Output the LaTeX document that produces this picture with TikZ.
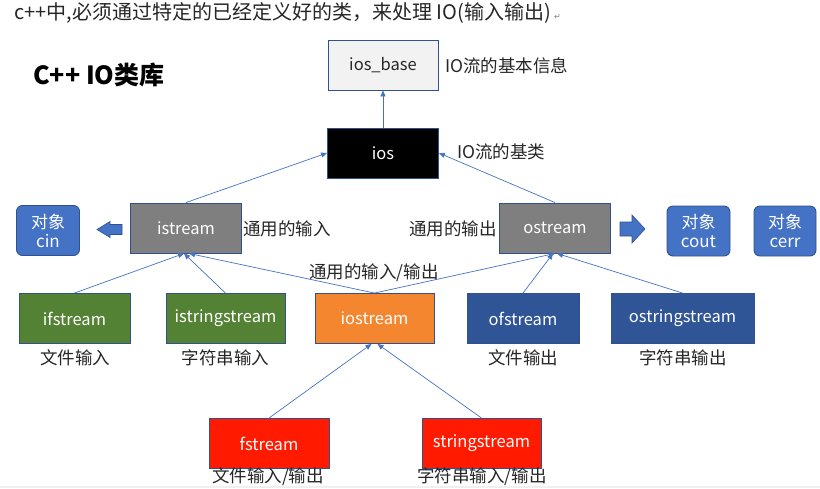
\documentclass[tikz,border=0pt]{standalone}
\usepackage{fontspec}
\setmainfont{Noto Sans CJK SC}
\newfontfamily\symfont{DejaVu Sans}
\usetikzlibrary{positioning, arrows.meta}

\definecolor{edgeblue}{HTML}{2F528F}
\definecolor{linkblue}{HTML}{4472C4}
\definecolor{basegray}{HTML}{F2F2F2}
\definecolor{streamgray}{HTML}{7F7F7F}
\definecolor{ingreen}{HTML}{548235}
\definecolor{ioorange}{HTML}{F4862F}
\definecolor{outblue}{HTML}{2F5597}
\definecolor{bothred}{HTML}{FF1A00}
\definecolor{txtgray}{HTML}{262626}

\begin{document}
\begin{tikzpicture}[
    x=1pt, y=-1pt,
    >={Triangle[length=6pt,width=5pt]},
    % class box
    cls/.style={rectangle, draw=edgeblue, line width=0.9pt, minimum height=50pt, inner sep=0pt, text=white, font=\fontsize{16.5}{18}\selectfont},
    % object box (rounded)
    obj/.style={rectangle, rounded corners=6pt, draw=edgeblue, fill=linkblue, line width=0.9pt, minimum width=63pt, minimum height=50pt, inner sep=0pt, align=center, text=white, font=\fontsize{17}{19}\selectfont},
    % comment text
    note/.style={inner sep=0pt, text=txtgray, font=\fontsize{17.5}{20}\selectfont},
    % inheritance link
    arr/.style={->, draw=linkblue, line width=0.7pt},
    % fat arrow towards the objects
    fat/.style={fill=linkblue, draw=edgeblue, line width=0.6pt},
]
\useasboundingbox (0,0) rectangle (820,488);
\clip (0,0) rectangle (820,488);

% --- heading ---
\node[anchor=west, inner sep=0pt, text=txtgray, font=\fontsize{20}{22}\selectfont] (intro) at (14,13)
    {c++中,必须通过特定的已经定义好的类，来处理 IO(输入输出)\,{\symfont\fontsize{8}{8}\selectfont\color{gray}↵}};
\node[anchor=west, inner sep=0pt, font=\bfseries\fontsize{25}{27}\selectfont] (title) at (33,75) {C++ IO类库};

% --- base classes ---
\node[cls, fill=basegray, text=txtgray, minimum width=110pt] (iosbase) at (383,65) {ios\_base};
\node[cls, fill=black, minimum width=111pt] (ios) at (383,153) {ios};
\node[note, anchor=west] (iosbasenote) at (445,66) {IO流的基本信息};
\node[note, anchor=west] (iosnote) at (457,152) {IO流的基类};

% --- istream / ostream ---
\node[cls, fill=streamgray, minimum width=111pt] (istream) at (186,228) {istream};
\node[cls, fill=streamgray, minimum width=111pt] (ostream) at (555,228) {ostream};
\node[note, anchor=west] (innote) at (243,229) {通用的输入};
\node[note, anchor=east] (outnote) at (497,229) {通用的输出};

% --- objects ---
\node[obj] (cin) at (48,230.5) {对象\\cin};
\node[obj] (cout) at (698.5,231) {对象\\cout};
\node[obj, minimum width=62pt] (cerr) at (785,231) {对象\\cerr};

% fat arrows
\draw[fat] (122,224.5) -- (110,224.5) -- (110,221.5) -- (97,229.5) -- (110,237.5) -- (110,234.5) -- (122,234.5) -- cycle;
\draw[fat] (620,222) -- (632,222) -- (632,215) -- (645,229) -- (632,243) -- (632,236) -- (620,236) -- cycle;

% --- second row ---
\node[cls, fill=ingreen, minimum width=111pt] (ifstream) at (74.5,318.5) {ifstream};
\node[cls, fill=ingreen, minimum width=119pt] (istringstream) at (225.5,318.5) {istringstream};
\node[cls, fill=ioorange, minimum width=119pt] (iostream) at (374.5,318.5) {iostream};
\node[cls, fill=outblue, minimum width=112pt] (ofstream) at (523,318.5) {ofstream};
\node[cls, fill=outblue, minimum width=143pt] (ostringstream) at (682.5,318.5) {ostringstream};

\node[note] (ionote) at (374,273) {通用的输入/输出};
\node[note] (ifnote) at (75,358) {文件输入};
\node[note] (isnote) at (225.5,358) {字符串输入};
\node[note] (ofnote) at (523,358) {文件输出};
\node[note] (osnote) at (683,358) {字符串输出};

% --- third row ---
\node[cls, fill=bothred, minimum width=120pt] (fstream) at (269,443.5) {fstream};
\node[cls, fill=bothred, minimum width=119pt] (stringstream) at (481.5,443.5) {stringstream};
\node[note] (fnote) at (268,477) {文件输入/输出};
\node[note] (snote) at (482,477) {字符串输入/输出};

% --- links ---
\draw[arr] (ios) -- (iosbase);
\draw[arr] (istream.north) -- (ios.west);
\draw[arr] (ostream.north) -- (ios.east);
\draw[arr] (ifstream.north) -- ([xshift=-2pt]istream.south);
\draw[arr] (istringstream.north) -- ([xshift=-2pt]istream.south);
\draw[arr] (iostream.north) -- ([xshift=3pt]istream.south);
\draw[arr] (iostream.north) -- (ostream.south);
\draw[arr] (ofstream.north) -- ([xshift=-2pt]ostream.south);
\draw[arr] (ostringstream.north) -- ([xshift=2pt]ostream.south);
\draw[arr] (fstream.north) -- ([xshift=-3pt]iostream.south);
\draw[arr] (stringstream.north) -- ([xshift=3pt]iostream.south);

% window edge
\fill[gray!12] (0,486) rectangle (820,488);
\end{tikzpicture}
\end{document}
